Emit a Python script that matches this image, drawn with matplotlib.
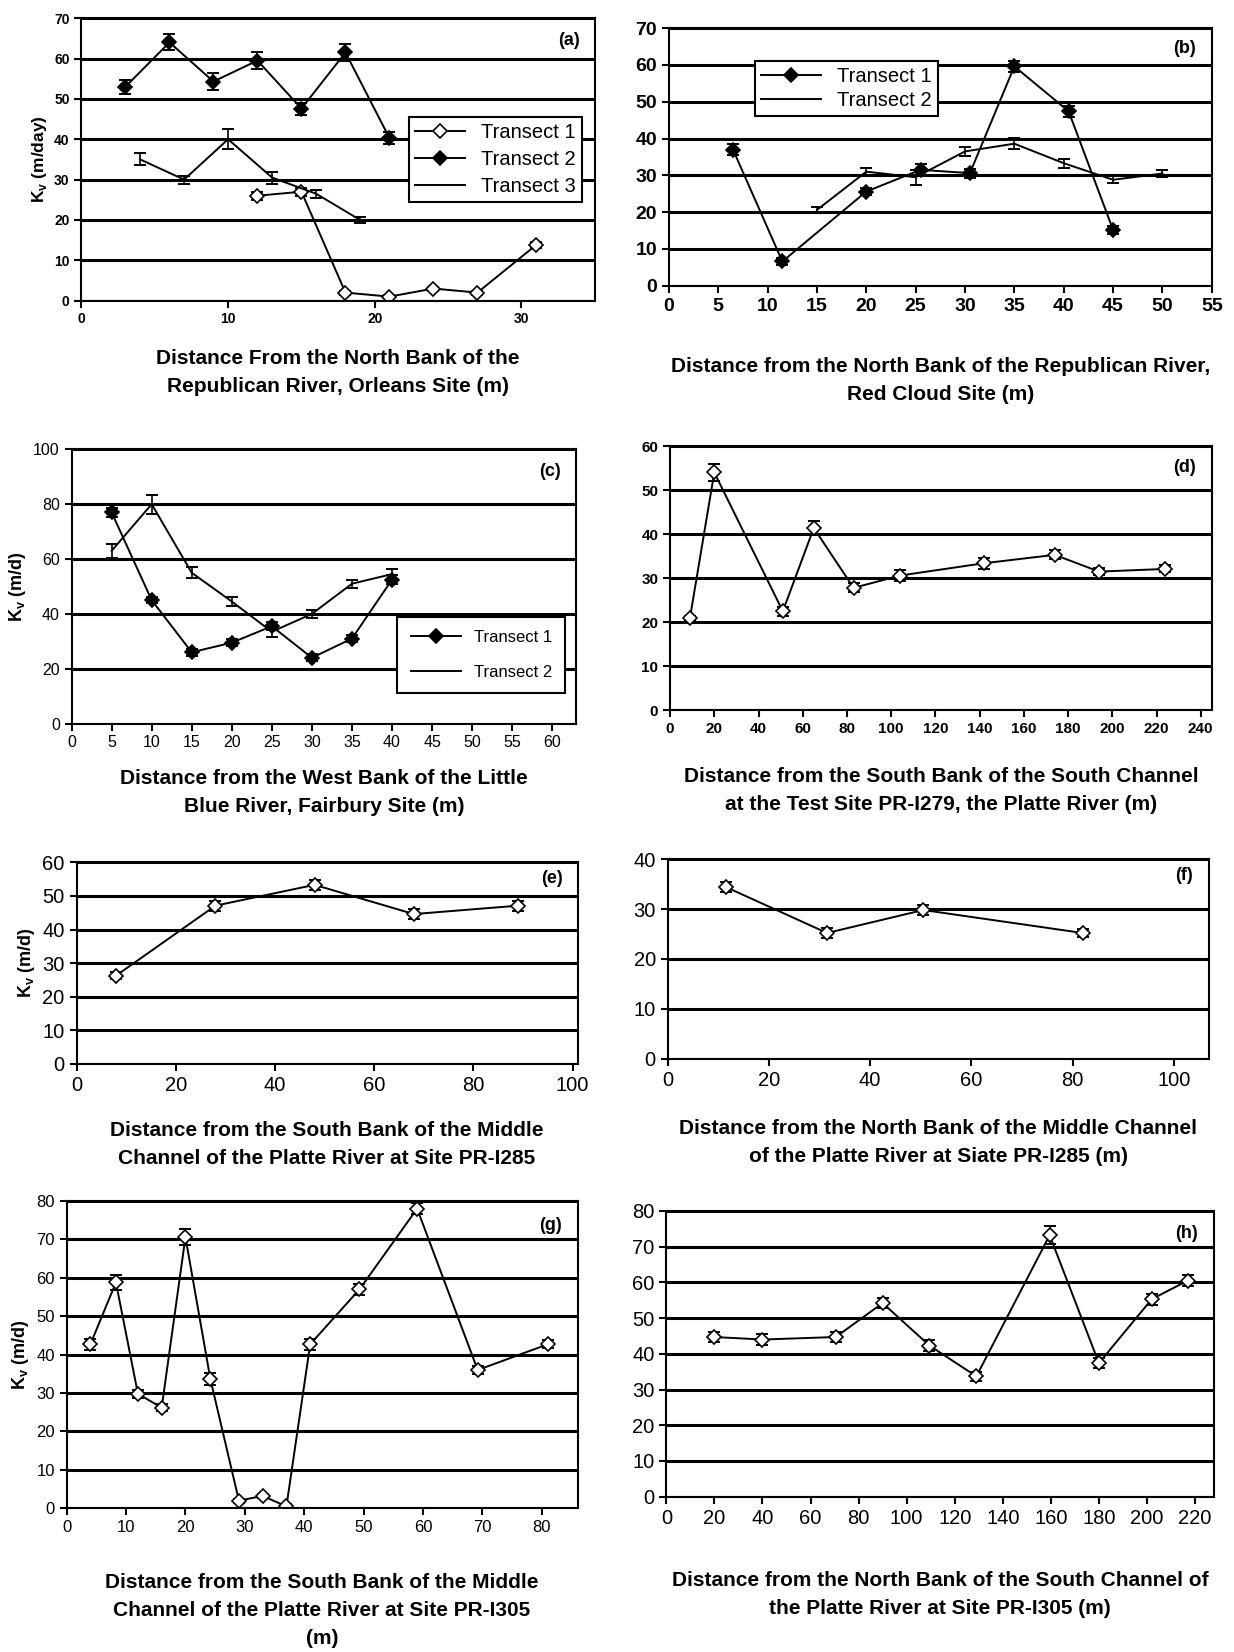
import numpy as np
import matplotlib.pyplot as plt

plt.rcParams['font.family'] = ['Liberation Sans', 'DejaVu Sans']
plt.rcParams['mathtext.fontset'] = 'custom'
plt.rcParams['mathtext.rm'] = 'Liberation Sans:bold'
plt.rcParams['mathtext.bf'] = 'Liberation Sans:bold'

# (a) Republican River, Orleans
a_t1_x = [12, 15, 18, 21, 24, 27, 31]
a_t1_y = [26, 27, 2, 1, 3, 2, 13.8]
a_t1_err = [1, 1, 0.5, 0.3, 0.5, 0.5, 0.8]
a_t2_x = [3, 6, 9, 12, 15, 18, 21]
a_t2_y = [53, 64, 54.3, 59.5, 47.6, 61.5, 40.3]
a_t2_err = [1.8, 2, 2, 2, 1.5, 2, 1.5]
a_t3_x = [4, 7, 10, 13, 16, 19]
a_t3_y = [35, 30, 40, 30.5, 26.5, 20]
a_t3_err = [1.5, 1, 2.5, 1.5, 1, 0.8]

# (b) Republican River, Red Cloud
b_t1_x = [6.5, 11.5, 20, 25.5, 30.5, 35, 40.5, 45]
b_t1_y = [37, 6.6, 25.6, 31.5, 30.6, 59.6, 47.4, 15.2]
b_t1_err = [1.5, 1, 1, 1.5, 1.2, 1.5, 1.5, 1]
b_t2_x = [15, 20, 25, 30, 35, 40, 45, 50]
b_t2_y = [20.6, 31, 29.5, 36.5, 38.6, 33.3, 28.8, 30.5]
b_t2_err = [0.8, 1, 2, 1.2, 1.5, 1.2, 1, 1]

# (c) Little Blue River, Fairbury
c_t1_x = [5, 10, 15, 20, 25, 30, 35, 40]
c_t1_y = [77, 45, 26, 29.5, 35.5, 24, 31, 52.5]
c_t1_err = [1.5, 1.2, 1.2, 1.2, 1.5, 1.2, 1.2, 1.5]
c_t2_x = [5, 10, 15, 20, 25, 30, 35, 40]
c_t2_y = [63, 80, 55, 44.5, 33.5, 40, 51, 54.5]
c_t2_err = [2.5, 3.5, 2, 1.5, 2, 1.5, 1.5, 2]

# (d) South Channel, PR-I279
d_x = [9, 20, 51, 65, 83, 104, 142, 174, 194, 224]
d_y = [21, 54, 22.5, 41.4, 27.8, 30.6, 33.4, 35.3, 31.5, 32.1]
d_err = [0.5, 2, 1, 1.5, 1, 1.2, 1.2, 1, 0.8, 0.8]

# (e) Middle Channel PR-I285 from south bank
e_x = [8, 28, 48, 68, 89]
e_y = [26.3, 47.1, 53.3, 44.6, 47.1]
e_err = [1, 1.5, 1.5, 1.5, 1.5]

# (f) Middle Channel PR-I285 from north bank
f_x = [11.5, 31.5, 50.5, 82]
f_y = [34.4, 25.2, 29.8, 25.2]
f_err = [1, 1, 1, 0.8]

# (g) Middle Channel PR-I305
g_x = [4, 8.3, 12, 16, 20, 24.2, 29, 33, 37, 41, 49.3, 59, 69.2, 81]
g_y = [42.7, 58.8, 29.8, 26.2, 70.6, 33.6, 2, 3.2, 0.5, 42.7, 57, 78, 36, 42.7]
g_err = [1.5, 2, 1, 1, 2, 1.5, 0.5, 0.5, 0.5, 1.5, 1.5, 1.5, 1, 1]

# (h) South Channel PR-I305
h_x = [20, 40, 70.5, 90, 109.5, 129, 159.5, 180, 202, 217]
h_y = [44.7, 44, 44.7, 54.2, 42.3, 33.7, 73.2, 37.4, 55.3, 60.5]
h_err = [1.5, 1.5, 1.5, 1.5, 1.5, 1.2, 2.5, 1.5, 1.5, 1.5]


def style(ax, xlim, xticks, ylim, yticks, tag, tick_size, tick_weight):
    ax.set_xlim(*xlim)
    ax.set_ylim(*ylim)
    ax.set_xticks(xticks)
    ax.set_yticks(yticks)
    ax.yaxis.grid(True, color='black', lw=2.2)
    ax.set_axisbelow(True)
    for s in ax.spines.values():
        s.set_color('black')
        s.set_linewidth(1.5)
    ax.tick_params(direction='out', length=5, width=1.5, labelsize=tick_size)
    for lab in ax.get_xticklabels() + ax.get_yticklabels():
        lab.set_fontweight(tick_weight)
    ax.text(0.97, 0.92, tag, transform=ax.transAxes, ha='right', va='center',
            fontsize=13, fontweight='bold')


def series(ax, x, y, err, marker, face, label):
    ax.errorbar(x, y, yerr=err, fmt='none', ecolor='black', elinewidth=1.2,
                capsize=4, capthick=1.4)
    ax.plot(x, y, color='black', lw=1.4, marker=marker, ms=7, mfc=face,
            mec='black', mew=1.2, label=label)


def box_legend(ax, **kw):
    leg = ax.legend(frameon=True, fancybox=False, edgecolor='black', framealpha=1,
                    **kw)
    leg.get_frame().set_linewidth(1.5)


fig = plt.figure(figsize=(12.34, 16.52), dpi=100)

ax_a = fig.add_axes([0.066, 0.818, 0.416, 0.171])
ax_b = fig.add_axes([0.542, 0.827, 0.440, 0.156])
ax_c = fig.add_axes([0.058, 0.562, 0.409, 0.166])
ax_d = fig.add_axes([0.543, 0.570, 0.439, 0.160])
ax_e = fig.add_axes([0.062, 0.356, 0.406, 0.122])
ax_f = fig.add_axes([0.541, 0.359, 0.439, 0.121])
ax_g = fig.add_axes([0.054, 0.087, 0.414, 0.186])
ax_h = fig.add_axes([0.540, 0.094, 0.444, 0.173])

# (a)
series(ax_a, a_t1_x, a_t1_y, a_t1_err, 'D', 'white', 'Transect 1')
series(ax_a, a_t2_x, a_t2_y, a_t2_err, 'D', 'black', 'Transect 2')
series(ax_a, a_t3_x, a_t3_y, a_t3_err, None, 'black', 'Transect 3')
style(ax_a, (0, 35), [0, 10, 20, 30], (0, 70), range(0, 71, 10), '(a)', 10, 'bold')
box_legend(ax_a, loc='center right', bbox_to_anchor=(0.995, 0.5), fontsize=14.5,
           handlelength=2.5, borderpad=0.3, labelspacing=0.4)
ax_a.set_ylabel('K$_\\mathbf{v}$ (m/day)', fontsize=12.5, fontweight='bold')

# (b)
series(ax_b, b_t1_x, b_t1_y, b_t1_err, 'D', 'black', 'Transect 1')
series(ax_b, b_t2_x, b_t2_y, b_t2_err, None, 'black', 'Transect 2')
style(ax_b, (0, 55), range(0, 56, 5), (0, 70), range(0, 71, 10), '(b)', 14, 'bold')
box_legend(ax_b, loc='upper left', bbox_to_anchor=(0.14, 0.91), fontsize=14.5,
           handlelength=3, borderpad=0.3, labelspacing=0.25)

# (c)
series(ax_c, c_t1_x, c_t1_y, c_t1_err, 'D', 'black', 'Transect 1')
series(ax_c, c_t2_x, c_t2_y, c_t2_err, None, 'black', 'Transect 2')
style(ax_c, (0, 63), range(0, 61, 5), (0, 100), range(0, 101, 20), '(c)', 11.5, 'normal')
box_legend(ax_c, loc='lower right', bbox_to_anchor=(0.995, 0.08), fontsize=12,
           handlelength=3, borderpad=0.8, labelspacing=1.2)
ax_c.set_ylabel('K$_\\mathbf{v}$ (m/d)', fontsize=13, fontweight='bold')

# (d)
series(ax_d, d_x, d_y, d_err, 'D', 'white', None)
style(ax_d, (0, 245), range(0, 241, 20), (0, 60), range(0, 61, 10), '(d)', 11, 'bold')

# (e)
series(ax_e, e_x, e_y, e_err, 'D', 'white', None)
style(ax_e, (0, 101), range(0, 101, 20), (0, 60), range(0, 61, 10), '(e)', 14.5, 'normal')
ax_e.set_ylabel('K$_\\mathbf{v}$ (m/d)', fontsize=13, fontweight='bold')

# (f)
series(ax_f, f_x, f_y, f_err, 'D', 'white', None)
style(ax_f, (0, 107), range(0, 101, 20), (0, 40), range(0, 41, 10), '(f)', 14.5, 'normal')

# (g)
series(ax_g, g_x, g_y, g_err, 'D', 'white', None)
style(ax_g, (0, 86), range(0, 81, 10), (0, 80), range(0, 81, 10), '(g)', 12, 'normal')
ax_g.set_ylabel('K$_\\mathbf{v}$ (m/d)', fontsize=13, fontweight='bold')

# (h)
series(ax_h, h_x, h_y, h_err, 'D', 'white', None)
style(ax_h, (0, 228), range(0, 221, 20), (0, 80), range(0, 81, 10), '(h)', 14.5, 'normal')

# x axis captions
captions = [
    (ax_a, 373, 'Distance From the North Bank of the\nRepublican River, Orleans Site (m)'),
    (ax_b, 380, 'Distance from the North Bank of the Republican River,\nRed Cloud Site (m)'),
    (ax_c, 792, 'Distance from the West Bank of the Little\nBlue River, Fairbury Site (m)'),
    (ax_d, 790, 'Distance from the South Bank of the South Channel\nat the Test Site PR-I279, the Platte River (m)'),
    (ax_e, 1144, 'Distance from the South Bank of the Middle\nChannel of the Platte River at Site PR-I285'),
    (ax_f, 1142, 'Distance from the North Bank of the Middle Channel\nof the Platte River at Siate PR-I285 (m)'),
    (ax_g, 1611, 'Distance from the South Bank of the Middle\nChannel of the Platte River at Site PR-I305\n(m)'),
    (ax_h, 1594, 'Distance from the North Bank of the South Channel of\nthe Platte River at Site PR-I305 (m)'),
]
for ax, ypix, txt in captions:
    pos = ax.get_position()
    fig.text(pos.x0 + pos.width / 2, 1 - ypix / 1652, txt, ha='center', va='center',
             fontsize=15, fontweight='bold', linespacing=1.6)

fig.savefig('out.png', dpi=100, facecolor='white')
